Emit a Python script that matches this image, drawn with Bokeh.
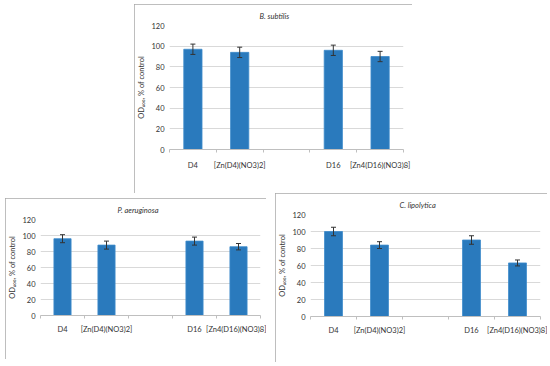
from bokeh.plotting import figure
from bokeh.models import (ColumnDataSource, Whisker, TeeHead, Range1d, FixedTicker,
                          Spacer, Title)
from bokeh.layouts import column, row
from bokeh.embed import file_html
from bokeh.resources import INLINE

# ---------------- data ----------------
slots = ["D4", "[Zn(D4)(NO3)2]", " ", "D16", "[Zn4(D16)(NO3)8]"]
categories = ["D4", "[Zn(D4)(NO3)2]", "D16", "[Zn4(D16)(NO3)8]"]

titles = ["B. subtilis", "P. aeruginosa", "C. lipolytica"]

bsub_values = [97, 94, 96, 90]
bsub_errors = [5, 5, 5, 5]

paer_values = [96, 88, 93, 86]
paer_errors = [5, 5, 5, 4]

clip_values = [100, 84, 90, 63]
clip_errors = [5, 4, 5, 3.5]

y_ticks = [0, 20, 40, 60, 80, 100, 120]
y_label = "OD\u2086\u2080\u2080, % of control"

FONT = "Lato"
TXT = "#333333"
BAR = "#2a7abd"


def panel(title, values, errors, width, height, mb, title_offset, xstd):
    xs = [slots.index(c) for c in categories]
    src = ColumnDataSource(dict(
        x=xs, top=values,
        upper=[v + e for v, e in zip(values, errors)],
        lower=[v - e for v, e in zip(values, errors)],
    ))
    p = figure(width=width, height=height, output_backend="svg",
               toolbar_location=None,
               x_range=Range1d(-0.5, len(slots) - 0.5),
               y_range=Range1d(y_ticks[0], y_ticks[-1]),
               min_border_left=mb[0], min_border_right=mb[1],
               min_border_top=mb[2], min_border_bottom=mb[3],
               styles={"outline": "1px solid #a9a9a9", "outline-offset": "-1px"})
    p.title = Title(text=title, align="left", offset=title_offset,
                    text_font=FONT, text_font_size="7.5px",
                    text_font_style="italic", text_color=TXT, standoff=10)
    p.outline_line_color = None
    p.background_fill_color = "white"
    p.border_fill_color = "white"

    p.vbar(x="x", top="top", width=0.39, source=src,
           fill_color=BAR, line_color="#3d8ccc", line_width=0.8)
    w = Whisker(source=src, base="x", upper="upper", lower="lower",
                line_color="#333333", line_width=1, level="overlay",
                upper_head=TeeHead(size=5, line_color="#333333", line_width=1),
                lower_head=TeeHead(size=5, line_color="#333333", line_width=1))
    p.add_layout(w)

    # x axis: labels at category centres, small ticks at category boundaries
    p.xaxis.ticker = FixedTicker(ticks=xs,
                                 minor_ticks=[i - 0.5 for i in range(len(slots) + 1)])
    p.xaxis.major_label_overrides = {x: c for x, c in zip(xs, categories)}
    p.xaxis.major_tick_line_color = None
    p.xaxis.major_tick_out = 0
    p.xaxis.major_tick_in = 0
    p.xaxis.minor_tick_line_color = "#bfbfbf"
    p.xaxis.minor_tick_out = 3
    p.xaxis.minor_tick_in = 0
    p.xaxis.axis_line_color = "#bfbfbf"
    p.xaxis.major_label_text_font = FONT
    p.xaxis.major_label_text_font_size = "7.5px"
    p.xaxis.major_label_text_color = TXT
    p.xaxis.major_label_standoff = xstd

    p.yaxis.ticker = FixedTicker(ticks=y_ticks)
    p.yaxis.axis_line_color = None
    p.yaxis.major_tick_line_color = None
    p.yaxis.minor_tick_line_color = None
    p.yaxis.major_tick_out = 0
    p.yaxis.major_label_text_font = FONT
    p.yaxis.major_label_text_font_size = "7.5px"
    p.yaxis.major_label_text_color = TXT
    p.yaxis.major_label_standoff = 5
    p.yaxis.axis_label = y_label
    p.yaxis.axis_label_text_font = FONT
    p.yaxis.axis_label_text_font_size = "7.5px"
    p.yaxis.axis_label_text_font_style = "normal"
    p.yaxis.axis_label_text_color = TXT
    p.yaxis.axis_label_standoff = 2

    p.xgrid.grid_line_color = None
    p.ygrid.grid_line_color = "#d9d9d9"
    p.ygrid.grid_line_width = 1
    return p


top = panel(titles[0], bsub_values, bsub_errors, 278, 189, (33, 9, 21, 44), 90, 8)
bl = panel(titles[1], paer_values, paer_errors, 261, 161, (28, 6, 18, 44), 77, 6)
br = panel(titles[2], clip_values, clip_errors, 272, 169, (28, 7, 20, 46), 89, 6)

layout = column(
    Spacer(width=412, height=4),
    row(Spacer(width=134, height=189), top),
    row(Spacer(width=5, height=169),
        column(Spacer(width=261, height=5), bl),
        Spacer(width=9, height=169), br),
)

open("out.html", "w").write(file_html(layout, INLINE))
